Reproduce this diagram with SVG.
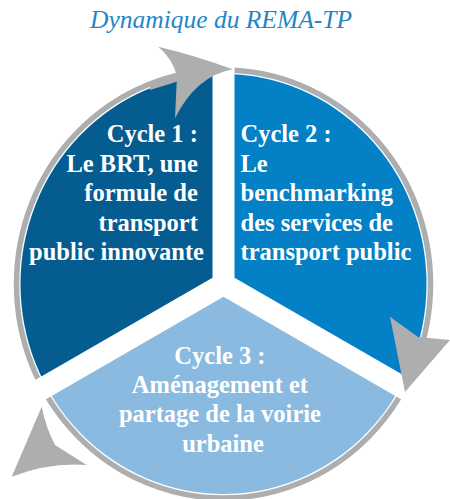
<svg xmlns="http://www.w3.org/2000/svg" width="450" height="499" viewBox="0 0 450 499">
<defs>
<clipPath id="disc"><ellipse cx="223.5" cy="284" rx="203" ry="210"/></clipPath>
<clipPath id="sectors">
<polygon points="212.5,277.65 212.5,-100 -200,-100 -200,515.8"/>
<polygon points="234.5,277.65 234.5,-100 650,-100 650,517.5"/>
<polygon points="223.5,296.7 -200,541.2 -200,700 650,700 650,542.9"/>
</clipPath>
<style>
.lbl{font-family:"Liberation Serif","Times New Roman",serif;font-weight:bold;font-size:24.5px;fill:#ffffff}
.ring{fill:none;stroke:#ADAEB0;stroke-width:5.5}
.head{fill:#ADAEB0}
.title{font-family:"Liberation Serif","Times New Roman",serif;font-style:italic;font-size:25.5px;fill:#1F86C8}
</style>
</defs>
<rect width="450" height="499" fill="#ffffff"/>
<text class="title" x="221" y="28" text-anchor="middle">Dynamique du REMA-TP</text>
<g id="cycle1">
<polygon clip-path="url(#disc)" fill="#045C91" points="212.5,277.65 212.5,-100 -200,-100 -200,515.8"/>
<text class="lbl" text-anchor="end">
<tspan x="204" y="142">Cycle 1 :</tspan>
<tspan x="204" y="171.5">Le BRT, une</tspan>
<tspan x="204" y="201">formule de</tspan>
<tspan x="204" y="230.5">transport</tspan>
<tspan x="204" y="260">public innovante</tspan>
</text>
</g>
<g id="cycle2">
<polygon clip-path="url(#disc)" fill="#0480C6" points="234.5,277.65 234.5,-100 650,-100 650,517.5"/>
<text class="lbl">
<tspan x="240.5" y="142">Cycle 2 :</tspan>
<tspan x="240.5" y="171.5">Le</tspan>
<tspan x="240.5" y="201">benchmarking</tspan>
<tspan x="240.5" y="230.5">des services de</tspan>
<tspan x="240.5" y="260">transport public</tspan>
</text>
</g>
<g id="cycle3">
<polygon clip-path="url(#disc)" fill="#8BBAE0" points="223.5,296.7 -200,541.2 -200,700 650,700 650,542.9"/>
<text class="lbl" text-anchor="middle">
<tspan x="223" y="363.5">Cycle 3 :</tspan>
<tspan x="223" y="393">Aménagement et</tspan>
<tspan x="223" y="422">partage de la voirie</tspan>
<tspan x="223" y="451.5">urbaine</tspan>
</text>
</g>
<g id="connectors">
<ellipse class="ring" cx="223.5" cy="284" rx="207" ry="214" clip-path="url(#sectors)"/>
<path class="head" d="M158.3,46.7 Q197,56 232.7,69.3 Q196,76 175,118.3 L176.7,81.7 L150,90 L150,83.3 L176.7,75 Q172.5,59 158.3,46.7 Z"/>
<path class="head" d="M390,316.7 L418,337 L450,340 Q424,370 405,392 Z"/>
<path class="head" d="M41.7,406.7 L11.7,476.7 Q50,462 86.7,465 L55,445 Q46,428 41.7,406.7 Z"/>
</g>
</svg>
